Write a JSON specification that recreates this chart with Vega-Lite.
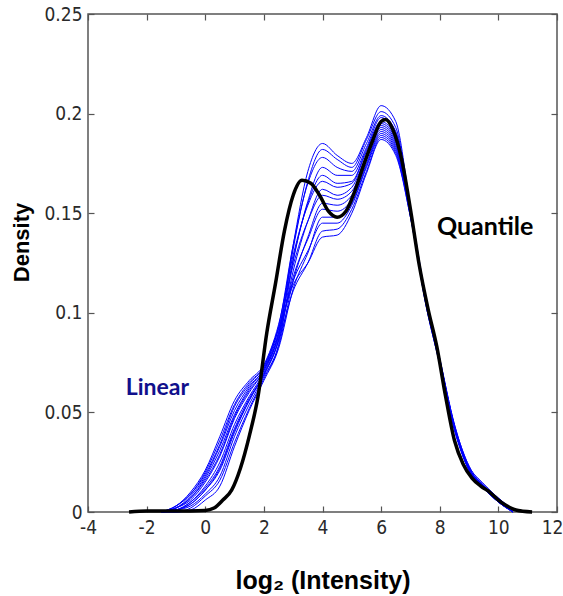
{
  "$schema": "https://vega.github.io/schema/vega-lite/v6.json",
  "width": 469,
  "height": 498,
  "autosize": {"type": "none"},
  "padding": {"left": 88, "top": 14, "right": 6, "bottom": 84},
  "background": "white",
  "config": {
    "view": {"stroke": "#555555", "strokeWidth": 1.5},
    "axis": {
      "domain": false,
      "grid": false,
      "tickSize": -6,
      "tickColor": "#555555",
      "tickWidth": 1.2,
      "labelFont": "Liberation Sans Narrow, DejaVu Sans Condensed, sans-serif",
      "labelFontSize": 19,
      "labelColor": "#2a2a2a",
      "labelFlush": false,
      "labelOverlap": false,
      "labelPadding": 12
    }
  },
  "datasets": {
    "linear": [
      {"c":0,"x":-1.5,"y":0},{"c":0,"x":-1,"y":0.002},{"c":0,"x":-0.5,"y":0.007},{"c":0,"x":0,"y":0.017},{"c":0,"x":0.5,"y":0.031},{"c":0,"x":1,"y":0.049},{"c":0,"x":1.5,"y":0.062},{"c":0,"x":2,"y":0.072},{"c":0,"x":2.5,"y":0.09},{"c":0,"x":3,"y":0.134},{"c":0,"x":3.5,"y":0.171},{"c":0,"x":4,"y":0.185},{"c":0,"x":4.5,"y":0.179},{"c":0,"x":5,"y":0.175},{"c":0,"x":5.5,"y":0.188},{"c":0,"x":6,"y":0.204},{"c":0,"x":6.5,"y":0.196},{"c":0,"x":7,"y":0.153},{"c":0,"x":7.5,"y":0.11},{"c":0,"x":8,"y":0.077},{"c":0,"x":8.5,"y":0.044},{"c":0,"x":9,"y":0.023},{"c":0,"x":9.5,"y":0.014},{"c":0,"x":10,"y":0.007},{"c":0,"x":10.5,"y":0.001},
      {"c":1,"x":-1.5,"y":0},{"c":1,"x":-1,"y":0.001},{"c":1,"x":-0.5,"y":0.005},{"c":1,"x":0,"y":0.012},{"c":1,"x":0.5,"y":0.023},{"c":1,"x":1,"y":0.042},{"c":1,"x":1.5,"y":0.057},{"c":1,"x":2,"y":0.069},{"c":1,"x":2.5,"y":0.087},{"c":1,"x":3,"y":0.132},{"c":1,"x":3.5,"y":0.166},{"c":1,"x":4,"y":0.182},{"c":1,"x":4.5,"y":0.177},{"c":1,"x":5,"y":0.173},{"c":1,"x":5.5,"y":0.187},{"c":1,"x":6,"y":0.201},{"c":1,"x":6.5,"y":0.193},{"c":1,"x":7,"y":0.152},{"c":1,"x":7.5,"y":0.108},{"c":1,"x":8,"y":0.076},{"c":1,"x":8.5,"y":0.043},{"c":1,"x":9,"y":0.022},{"c":1,"x":9.5,"y":0.013},{"c":1,"x":10,"y":0.006},{"c":1,"x":10.5,"y":0},
      {"c":2,"x":-1.5,"y":0},{"c":2,"x":-1,"y":0.003},{"c":2,"x":-0.5,"y":0.009},{"c":2,"x":0,"y":0.02},{"c":2,"x":0.5,"y":0.036},{"c":2,"x":1,"y":0.054},{"c":2,"x":1.5,"y":0.065},{"c":2,"x":2,"y":0.073},{"c":2,"x":2.5,"y":0.093},{"c":2,"x":3,"y":0.134},{"c":2,"x":3.5,"y":0.165},{"c":2,"x":4,"y":0.178},{"c":2,"x":4.5,"y":0.173},{"c":2,"x":5,"y":0.171},{"c":2,"x":5.5,"y":0.185},{"c":2,"x":6,"y":0.199},{"c":2,"x":6.5,"y":0.191},{"c":2,"x":7,"y":0.152},{"c":2,"x":7.5,"y":0.109},{"c":2,"x":8,"y":0.076},{"c":2,"x":8.5,"y":0.043},{"c":2,"x":9,"y":0.022},{"c":2,"x":9.5,"y":0.013},{"c":2,"x":10,"y":0.006},{"c":2,"x":10.5,"y":0.001},
      {"c":3,"x":-1.5,"y":0},{"c":3,"x":-1,"y":0.001},{"c":3,"x":-0.5,"y":0.003},{"c":3,"x":0,"y":0.009},{"c":3,"x":0.5,"y":0.018},{"c":3,"x":1,"y":0.038},{"c":3,"x":1.5,"y":0.054},{"c":3,"x":2,"y":0.068},{"c":3,"x":2.5,"y":0.084},{"c":3,"x":3,"y":0.126},{"c":3,"x":3.5,"y":0.156},{"c":3,"x":4,"y":0.173},{"c":3,"x":4.5,"y":0.169},{"c":3,"x":5,"y":0.169},{"c":3,"x":5.5,"y":0.183},{"c":3,"x":6,"y":0.198},{"c":3,"x":6.5,"y":0.19},{"c":3,"x":7,"y":0.151},{"c":3,"x":7.5,"y":0.107},{"c":3,"x":8,"y":0.075},{"c":3,"x":8.5,"y":0.042},{"c":3,"x":9,"y":0.021},{"c":3,"x":9.5,"y":0.013},{"c":3,"x":10,"y":0.006},{"c":3,"x":10.5,"y":0},
      {"c":4,"x":-1.5,"y":0},{"c":4,"x":-1,"y":0.002},{"c":4,"x":-0.5,"y":0.006},{"c":4,"x":0,"y":0.015},{"c":4,"x":0.5,"y":0.028},{"c":4,"x":1,"y":0.047},{"c":4,"x":1.5,"y":0.06},{"c":4,"x":2,"y":0.071},{"c":4,"x":2.5,"y":0.089},{"c":4,"x":3,"y":0.127},{"c":4,"x":3.5,"y":0.155},{"c":4,"x":4,"y":0.169},{"c":4,"x":4.5,"y":0.165},{"c":4,"x":5,"y":0.166},{"c":4,"x":5.5,"y":0.182},{"c":4,"x":6,"y":0.196},{"c":4,"x":6.5,"y":0.188},{"c":4,"x":7,"y":0.151},{"c":4,"x":7.5,"y":0.108},{"c":4,"x":8,"y":0.076},{"c":4,"x":8.5,"y":0.043},{"c":4,"x":9,"y":0.022},{"c":4,"x":9.5,"y":0.013},{"c":4,"x":10,"y":0.006},{"c":4,"x":10.5,"y":0.001},
      {"c":5,"x":-1.5,"y":0},{"c":5,"x":-1,"y":0.003},{"c":5,"x":-0.5,"y":0.01},{"c":5,"x":0,"y":0.021},{"c":5,"x":0.5,"y":0.038},{"c":5,"x":1,"y":0.056},{"c":5,"x":1.5,"y":0.066},{"c":5,"x":2,"y":0.074},{"c":5,"x":2.5,"y":0.094},{"c":5,"x":3,"y":0.129},{"c":5,"x":3.5,"y":0.154},{"c":5,"x":4,"y":0.166},{"c":5,"x":4.5,"y":0.163},{"c":5,"x":5,"y":0.165},{"c":5,"x":5.5,"y":0.181},{"c":5,"x":6,"y":0.195},{"c":5,"x":6.5,"y":0.187},{"c":5,"x":7,"y":0.15},{"c":5,"x":7.5,"y":0.109},{"c":5,"x":8,"y":0.077},{"c":5,"x":8.5,"y":0.044},{"c":5,"x":9,"y":0.023},{"c":5,"x":9.5,"y":0.014},{"c":5,"x":10,"y":0.007},{"c":5,"x":10.5,"y":0.001},
      {"c":6,"x":-1.5,"y":0},{"c":6,"x":-1,"y":0.001},{"c":6,"x":-0.5,"y":0.004},{"c":6,"x":0,"y":0.011},{"c":6,"x":0.5,"y":0.021},{"c":6,"x":1,"y":0.04},{"c":6,"x":1.5,"y":0.056},{"c":6,"x":2,"y":0.069},{"c":6,"x":2.5,"y":0.086},{"c":6,"x":3,"y":0.121},{"c":6,"x":3.5,"y":0.146},{"c":6,"x":4,"y":0.162},{"c":6,"x":4.5,"y":0.159},{"c":6,"x":5,"y":0.163},{"c":6,"x":5.5,"y":0.179},{"c":6,"x":6,"y":0.194},{"c":6,"x":6.5,"y":0.186},{"c":6,"x":7,"y":0.15},{"c":6,"x":7.5,"y":0.107},{"c":6,"x":8,"y":0.075},{"c":6,"x":8.5,"y":0.042},{"c":6,"x":9,"y":0.021},{"c":6,"x":9.5,"y":0.012},{"c":6,"x":10,"y":0.005},{"c":6,"x":10.5,"y":0},
      {"c":7,"x":-1.5,"y":0},{"c":7,"x":-1,"y":0.002},{"c":7,"x":-0.5,"y":0.008},{"c":7,"x":0,"y":0.018},{"c":7,"x":0.5,"y":0.033},{"c":7,"x":1,"y":0.051},{"c":7,"x":1.5,"y":0.063},{"c":7,"x":2,"y":0.072},{"c":7,"x":2.5,"y":0.092},{"c":7,"x":3,"y":0.124},{"c":7,"x":3.5,"y":0.146},{"c":7,"x":4,"y":0.159},{"c":7,"x":4.5,"y":0.157},{"c":7,"x":5,"y":0.161},{"c":7,"x":5.5,"y":0.178},{"c":7,"x":6,"y":0.193},{"c":7,"x":6.5,"y":0.185},{"c":7,"x":7,"y":0.15},{"c":7,"x":7.5,"y":0.108},{"c":7,"x":8,"y":0.076},{"c":7,"x":8.5,"y":0.043},{"c":7,"x":9,"y":0.022},{"c":7,"x":9.5,"y":0.013},{"c":7,"x":10,"y":0.006},{"c":7,"x":10.5,"y":0.001},
      {"c":8,"x":-1.5,"y":0},{"c":8,"x":-1,"y":0},{"c":8,"x":-0.5,"y":0.002},{"c":8,"x":0,"y":0.008},{"c":8,"x":0.5,"y":0.016},{"c":8,"x":1,"y":0.035},{"c":8,"x":1.5,"y":0.052},{"c":8,"x":2,"y":0.067},{"c":8,"x":2.5,"y":0.083},{"c":8,"x":3,"y":0.116},{"c":8,"x":3.5,"y":0.138},{"c":8,"x":4,"y":0.155},{"c":8,"x":4.5,"y":0.154},{"c":8,"x":5,"y":0.159},{"c":8,"x":5.5,"y":0.177},{"c":8,"x":6,"y":0.192},{"c":8,"x":6.5,"y":0.184},{"c":8,"x":7,"y":0.15},{"c":8,"x":7.5,"y":0.106},{"c":8,"x":8,"y":0.074},{"c":8,"x":8.5,"y":0.042},{"c":8,"x":9,"y":0.021},{"c":8,"x":9.5,"y":0.012},{"c":8,"x":10,"y":0.005},{"c":8,"x":10.5,"y":0},
      {"c":9,"x":-1.5,"y":0},{"c":9,"x":-1,"y":0.001},{"c":9,"x":-0.5,"y":0.005},{"c":9,"x":0,"y":0.013},{"c":9,"x":0.5,"y":0.025},{"c":9,"x":1,"y":0.044},{"c":9,"x":1.5,"y":0.058},{"c":9,"x":2,"y":0.07},{"c":9,"x":2.5,"y":0.088},{"c":9,"x":3,"y":0.118},{"c":9,"x":3.5,"y":0.137},{"c":9,"x":4,"y":0.152},{"c":9,"x":4.5,"y":0.151},{"c":9,"x":5,"y":0.157},{"c":9,"x":5.5,"y":0.175},{"c":9,"x":6,"y":0.191},{"c":9,"x":6.5,"y":0.183},{"c":9,"x":7,"y":0.149},{"c":9,"x":7.5,"y":0.107},{"c":9,"x":8,"y":0.075},{"c":9,"x":8.5,"y":0.043},{"c":9,"x":9,"y":0.022},{"c":9,"x":9.5,"y":0.013},{"c":9,"x":10,"y":0.006},{"c":9,"x":10.5,"y":0.001},
      {"c":10,"x":-1.5,"y":0},{"c":10,"x":-1,"y":0},{"c":10,"x":-0.5,"y":0.001},{"c":10,"x":0,"y":0.006},{"c":10,"x":0.5,"y":0.013},{"c":10,"x":1,"y":0.033},{"c":10,"x":1.5,"y":0.051},{"c":10,"x":2,"y":0.066},{"c":10,"x":2.5,"y":0.082},{"c":10,"x":3,"y":0.112},{"c":10,"x":3.5,"y":0.13},{"c":10,"x":4,"y":0.148},{"c":10,"x":4.5,"y":0.148},{"c":10,"x":5,"y":0.155},{"c":10,"x":5.5,"y":0.174},{"c":10,"x":6,"y":0.19},{"c":10,"x":6.5,"y":0.182},{"c":10,"x":7,"y":0.149},{"c":10,"x":7.5,"y":0.106},{"c":10,"x":8,"y":0.074},{"c":10,"x":8.5,"y":0.041},{"c":10,"x":9,"y":0.021},{"c":10,"x":9.5,"y":0.012},{"c":10,"x":10,"y":0.005},{"c":10,"x":10.5,"y":0},
      {"c":11,"x":-1.5,"y":0},{"c":11,"x":-1,"y":0.002},{"c":11,"x":-0.5,"y":0.007},{"c":11,"x":0,"y":0.016},{"c":11,"x":0.5,"y":0.029},{"c":11,"x":1,"y":0.048},{"c":11,"x":1.5,"y":0.061},{"c":11,"x":2,"y":0.071},{"c":11,"x":2.5,"y":0.09},{"c":11,"x":3,"y":0.116},{"c":11,"x":3.5,"y":0.131},{"c":11,"x":4,"y":0.145},{"c":11,"x":4.5,"y":0.145},{"c":11,"x":5,"y":0.154},{"c":11,"x":5.5,"y":0.173},{"c":11,"x":6,"y":0.189},{"c":11,"x":6.5,"y":0.181},{"c":11,"x":7,"y":0.149},{"c":11,"x":7.5,"y":0.108},{"c":11,"x":8,"y":0.076},{"c":11,"x":8.5,"y":0.043},{"c":11,"x":9,"y":0.022},{"c":11,"x":9.5,"y":0.013},{"c":11,"x":10,"y":0.006},{"c":11,"x":10.5,"y":0.001},
      {"c":12,"x":-1.5,"y":0},{"c":12,"x":-1,"y":0.001},{"c":12,"x":-0.5,"y":0.004},{"c":12,"x":0,"y":0.011},{"c":12,"x":0.5,"y":0.022},{"c":12,"x":1,"y":0.041},{"c":12,"x":1.5,"y":0.056},{"c":12,"x":2,"y":0.069},{"c":12,"x":2.5,"y":0.086},{"c":12,"x":3,"y":0.111},{"c":12,"x":3.5,"y":0.125},{"c":12,"x":4,"y":0.141},{"c":12,"x":4.5,"y":0.142},{"c":12,"x":5,"y":0.152},{"c":12,"x":5.5,"y":0.171},{"c":12,"x":6,"y":0.188},{"c":12,"x":6.5,"y":0.18},{"c":12,"x":7,"y":0.148},{"c":12,"x":7.5,"y":0.107},{"c":12,"x":8,"y":0.075},{"c":12,"x":8.5,"y":0.042},{"c":12,"x":9,"y":0.021},{"c":12,"x":9.5,"y":0.012},{"c":12,"x":10,"y":0.005},{"c":12,"x":10.5,"y":0},
      {"c":13,"x":-1.5,"y":0},{"c":13,"x":-1,"y":0.003},{"c":13,"x":-0.5,"y":0.009},{"c":13,"x":0,"y":0.019},{"c":13,"x":0.5,"y":0.034},{"c":13,"x":1,"y":0.053},{"c":13,"x":1.5,"y":0.064},{"c":13,"x":2,"y":0.073},{"c":13,"x":2.5,"y":0.092},{"c":13,"x":3,"y":0.114},{"c":13,"x":3.5,"y":0.125},{"c":13,"x":4,"y":0.138},{"c":13,"x":4.5,"y":0.139},{"c":13,"x":5,"y":0.15},{"c":13,"x":5.5,"y":0.17},{"c":13,"x":6,"y":0.187},{"c":13,"x":6.5,"y":0.179},{"c":13,"x":7,"y":0.148},{"c":13,"x":7.5,"y":0.108},{"c":13,"x":8,"y":0.076},{"c":13,"x":8.5,"y":0.043},{"c":13,"x":9,"y":0.022},{"c":13,"x":9.5,"y":0.013},{"c":13,"x":10,"y":0.006},{"c":13,"x":10.5,"y":0.001}
    ],
    "quantile": [
      {"x":-2.6,"y":0},{"x":-2,"y":0.0005},{"x":-1,"y":0.0005},{"x":0,"y":0.0008},{"x":0.3,"y":0.002},{"x":0.6,"y":0.006},{"x":0.9,"y":0.011},{"x":1.2,"y":0.022},{"x":1.5,"y":0.038},{"x":1.8,"y":0.058},{"x":2.1,"y":0.09},{"x":2.4,"y":0.115},{"x":2.7,"y":0.141},{"x":3,"y":0.159},{"x":3.3,"y":0.1665},{"x":3.6,"y":0.165},{"x":3.9,"y":0.159},{"x":4.2,"y":0.151},{"x":4.5,"y":0.148},{"x":4.8,"y":0.151},{"x":5.1,"y":0.161},{"x":5.4,"y":0.174},{"x":5.7,"y":0.186},{"x":6,"y":0.196},{"x":6.15,"y":0.197},{"x":6.4,"y":0.192},{"x":6.7,"y":0.177},{"x":7,"y":0.152},{"x":7.3,"y":0.124},{"x":7.6,"y":0.102},{"x":7.9,"y":0.083},{"x":8.2,"y":0.058},{"x":8.5,"y":0.036},{"x":8.8,"y":0.024},{"x":9.1,"y":0.017},{"x":9.4,"y":0.013},{"x":9.7,"y":0.01},{"x":10,"y":0.006},{"x":10.3,"y":0.003},{"x":10.6,"y":0.001},{"x":11.15,"y":0}
    ],
    "qlabel": [{"x": 9.55, "y": 0.139, "t": "Quantile"}],
    "llabel": [{"x": -1.63, "y": 0.0587, "t": "Linear"}]
  },
  "layer": [
    {
      "data": {"name": "linear"},
      "mark": {"type": "line", "color": "#0000ff", "strokeWidth": 1, "interpolate": "monotone"},
      "encoding": {
        "x": {
          "field": "x", "type": "quantitative",
          "scale": {"domain": [-4, 12], "nice": false, "zero": false},
          "axis": {
            "orient": "bottom",
            "values": [-4, -2, 0, 2, 4, 6, 8, 10, 12],
            "labelExpr": "datum.value < 0 ? '-' + abs(datum.value) : '' + datum.value",
            "labelAlign": {"condition": {"test": "datum.value == 12", "value": "right"}, "value": "center"},
            "labelOffset": {"condition": {"test": "datum.value == 12", "value": 6}, "value": 0},
            "title": "log₂ (Intensity)",
            "titleFont": "Liberation Sans, Arial, sans-serif",
            "titleFontSize": 25,
            "titleFontWeight": "bold",
            "titleColor": "#000000",
            "titleBaseline": "alphabetic",
            "titleY": 76
          }
        },
        "y": {
          "field": "y", "type": "quantitative",
          "scale": {"domain": [0, 0.25], "nice": false},
          "axis": {
            "orient": "left",
            "values": [0, 0.05, 0.1, 0.15, 0.2, 0.25],
            "format": ".2~f",
            "title": "Density",
            "titleFont": "Liberation Sans, Arial, sans-serif",
            "titleFontSize": 22,
            "titleFontWeight": "bold",
            "titleColor": "#000000",
            "titleBaseline": "bottom",
            "titleX": -55,
            "titleY": 228
          }
        },
        "detail": {"field": "c", "type": "nominal"}
      }
    },
    {
      "data": {"name": "quantile"},
      "mark": {"type": "line", "color": "#000000", "strokeWidth": 3.5, "interpolate": "monotone"},
      "encoding": {
        "x": {"field": "x", "type": "quantitative", "axis": null},
        "y": {"field": "y", "type": "quantitative", "axis": null}
      }
    },
    {
      "data": {"name": "qlabel"},
      "mark": {"type": "text", "font": "Lato, sans-serif", "fontWeight": "bold", "fontSize": 25, "color": "#000000", "align": "center", "baseline": "alphabetic"},
      "encoding": {
        "x": {"field": "x", "type": "quantitative", "axis": {"orient": "top", "values": [-4, -2, 0, 2, 4, 6, 8, 10, 12], "labels": false, "title": null}},
        "y": {"field": "y", "type": "quantitative", "axis": {"orient": "right", "values": [0, 0.05, 0.1, 0.15, 0.2, 0.25], "labels": false, "title": null}},
        "text": {"field": "t"}
      }
    },
    {
      "data": {"name": "llabel"},
      "mark": {"type": "text", "font": "Lato, sans-serif", "fontWeight": "bold", "fontSize": 23, "color": "#10108c", "align": "center", "baseline": "alphabetic"},
      "encoding": {
        "x": {"field": "x", "type": "quantitative", "axis": null},
        "y": {"field": "y", "type": "quantitative", "axis": null},
        "text": {"field": "t"}
      }
    }
  ],
  "resolve": {"axis": {"x": "independent", "y": "independent"}}
}
